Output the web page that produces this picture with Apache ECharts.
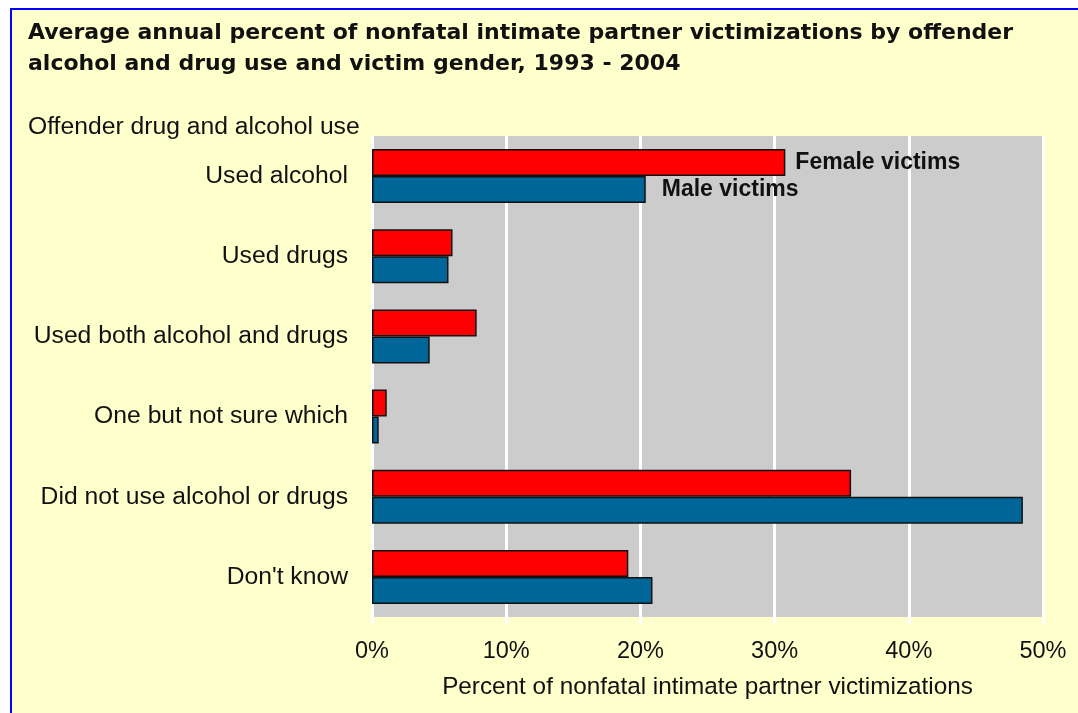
<!DOCTYPE html>
<html>
<head>
<meta charset="utf-8">
<script src="https://cdn.jsdelivr.net/npm/echarts@6/dist/echarts.min.js"></script>
<style>
  html, body { margin: 0; padding: 0; background: #ffffff; }
  #frame {
    position: absolute; left: 10px; top: 8px; width: 1100px; height: 740px;
    background: #ffffcc; border-left: 2px solid #0000ff; border-top: 2px solid #0000ff;
  }
  #main { position: absolute; left: 0; top: 0; width: 1078px; height: 713px; }
</style>
</head>
<body>
<div id="frame"></div>
<div id="main"></div>
<script>
var categories = ['Used alcohol', 'Used drugs', 'Used both alcohol and drugs',
  'One but not sure which', 'Did not use alcohol or drugs', "Don't know"];
var femaleVictims = [30.8, 6.0, 7.8, 1.1, 35.7, 19.1];
var maleVictims = [20.4, 5.7, 4.3, 0.5, 48.5, 20.9];
var xTicks = [0, 10, 20, 30, 40, 50];

var chart = echarts.init(document.getElementById('main'), null, { renderer: 'canvas' });

var sans = 'Liberation Sans, Arial, sans-serif';

function withFirstLabel(values, text, dist) {
  return values.map(function (v, i) {
    if (i !== 0) return v;
    return {
      value: v,
      label: {
        show: true, position: 'right', distance: dist, formatter: text,
        color: '#111', fontWeight: 'bold', fontSize: 23, fontFamily: sans
      }
    };
  });
}

var option = {
  backgroundColor: 'transparent',
  animation: false,
  title: [{
    text: 'Average annual percent of nonfatal intimate partner victimizations by offender\nalcohol and drug use and victim gender, 1993 - 2004',
    left: 23, top: 13,
    textStyle: { color: '#111', fontSize: 22, fontWeight: 'bold', fontFamily: 'DejaVu Sans, Verdana, sans-serif', lineHeight: 31 }
  }, {
    text: 'Offender drug and alcohol use',
    left: 23, top: 110,
    textStyle: { color: '#111', fontSize: 24.7, fontWeight: 'normal', fontFamily: sans }
  }],
  grid: {
    left: 372, right: 35, top: 136, bottom: 96,
    show: true, backgroundColor: '#cccccc', borderWidth: 0
  },
  xAxis: {
    type: 'value', min: 0, max: 50, interval: 10,
    name: 'Percent of nonfatal intimate partner victimizations',
    nameLocation: 'middle', nameGap: 58,
    nameTextStyle: { color: '#111', fontSize: 24.3, fontFamily: sans },
    axisLine: { show: false },
    axisTick: { show: true, length: 7, lineStyle: { color: '#ffffff', width: 3 } },
    splitLine: { show: true, lineStyle: { color: '#ffffff', width: 3 } },
    axisLabel: {
      margin: 23, color: '#111', fontSize: 23.5, fontFamily: sans,
      formatter: function (v) { return xTicks.indexOf(v) >= 0 ? v + '%' : ''; }
    }
  },
  yAxis: {
    type: 'category', data: categories, inverse: true,
    axisLine: { show: false }, axisTick: { show: false },
    axisLabel: { margin: 24, color: '#111', fontSize: 24.7, fontFamily: sans }
  },
  series: [{
    name: 'Female victims', type: 'bar', barWidth: 27, barGap: '0%',
    data: withFirstLabel(femaleVictims, 'Female victims', 10),
    itemStyle: { color: '#ff0000', borderColor: '#111', borderWidth: 1.5 }
  }, {
    name: 'Male victims', type: 'bar', barWidth: 27, barGap: '0%',
    data: withFirstLabel(maleVictims, 'Male victims', 16),
    itemStyle: { color: '#006699', borderColor: '#111', borderWidth: 1.5 }
  }]
};

chart.setOption(option);
</script>
</body>
</html>
